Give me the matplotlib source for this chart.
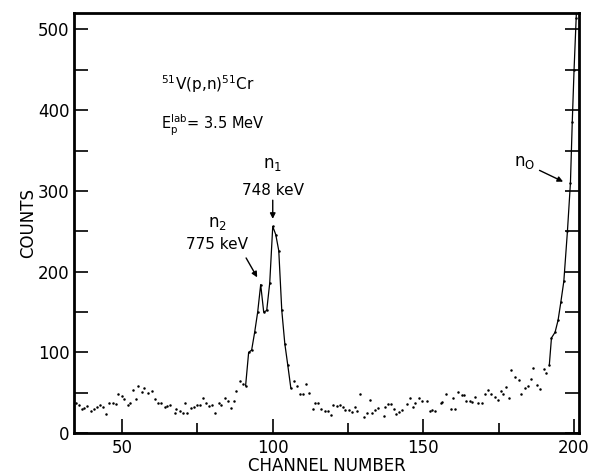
import numpy as np
import matplotlib
matplotlib.use("Agg")
import matplotlib.pyplot as plt

# channel / counts
channels = [34.7, 35.7, 36.6, 37.4, 38.4, 39.6, 40.6, 41.6, 42.7, 43.6, 44.7, 45.8, 46.9, 48.0,
            48.6, 49.9, 50.8, 51.8, 52.7, 53.6, 54.6, 55.4, 56.6, 57.4, 58.6, 59.9, 60.8, 61.9,
            62.9, 64.2, 65.0, 65.8, 67.4, 68.0, 69.1, 70.1, 70.9, 71.7, 73.0, 74.0, 75.0, 76.0,
            77.0, 78.0, 79.0, 80.0, 81.0, 82.0, 82.9, 84.0, 85.0, 86.2, 87.0, 87.9, 89.0, 90.0,
            91.0, 92.0, 93.0, 94.0, 95.0, 96.0, 97.0, 98.0, 99.0, 100.0, 101.0, 102.0, 103.0,
            104.0, 105.0, 106.0, 107.1, 108.2, 108.9, 110.0, 110.9, 111.9, 113.3, 114.0, 115.1,
            116.1, 117.2, 118.2, 119.3, 120.1, 121.3, 122.4, 123.3, 124.1, 125.2, 126.2, 127.3,
            128.0, 129.1, 130.2, 131.3, 132.2, 132.9, 133.9, 135.0, 136.9, 137.3, 138.2, 139.3,
            140.1, 141.0, 141.9, 143.0, 144.4, 145.4, 146.7, 147.3, 148.6, 149.6, 151.1, 152.1,
            152.9, 153.8, 155.7, 156.3, 157.4, 159.0, 159.8, 160.6, 161.5, 162.7, 163.6, 164.3,
            165.3, 166.2, 167.2, 168.1, 169.4, 170.6, 171.6, 172.5, 173.7, 174.8, 175.8, 176.5,
            177.4, 178.5, 179.2, 180.4, 181.6, 182.5, 183.7, 184.7, 185.7, 186.5, 187.8, 188.8,
            190.0, 190.7, 191.8, 192.5, 193.7, 194.7, 195.6, 196.6, 197.8, 198.8, 199.4, 200.0,
            200.7, 201.5]
counts = [38, 35, 30, 31, 34, 27.5, 30, 32, 35, 32.5, 24, 38, 37, 36,
          48, 46, 42, 35, 38, 54, 42, 59, 51, 56, 50, 52, 42, 37,
          37, 32, 34, 35, 25.5, 30, 28, 25, 38, 25.5, 31, 33, 35, 35,
          43, 38, 34, 35, 25.5, 38, 35, 44, 39.5, 31, 39.5, 52, 64.5, 60.5,
          59, 100, 103, 125, 150, 184, 150, 152, 186, 256, 246, 226, 152,
          111, 84, 56, 65, 58, 49, 48.5, 60.5, 50, 30, 37, 38,
          30, 27, 27, 22, 35, 34, 34.5, 32.5, 29, 29, 26, 33,
          27.5, 48, 20, 25, 41.5, 25.5, 29, 31, 21, 32.5, 36.5, 36,
          30, 23.5, 26, 29, 36, 44, 32, 37, 43, 39.5, 40, 28,
          28.5, 28, 37.5, 39, 49, 29.5, 43, 30.5, 51.5, 47, 47, 40,
          40, 39, 45, 37.5, 37, 49, 53, 48.5, 44.5, 41, 52, 48,
          57, 44, 78, 69, 66, 48, 55.5, 58, 67.5, 80.5, 60, 55,
          80, 75, 85, 118, 125, 140, 162, 188, 250, 310, 385, 450,
          514, 600]

# channel windows where the points are joined by a line
line_windows = [(91, 106), (191.8, 202)]

x = np.array(channels)
y = np.array(counts)

plt.rcParams['font.family'] = ['DejaVu Sans']
fig = plt.figure(figsize=(5.91, 4.75), dpi=100)
ax = fig.add_axes([0.125, 0.088, 0.855, 0.884])

for lo, hi in line_windows:
    m = (x >= lo) & (x <= hi)
    ax.plot(x[m], y[m], '-', color='black', lw=0.9)
ax.plot(x, y, 'o', color='black', markersize=1.8, markeredgewidth=0)

ax.set_xlim(34, 201.7)
ax.set_ylim(0, 520)

ax.set_xticks([50, 100, 150, 200])
ax.set_xticks([75, 125, 175], minor=True)
ax.set_yticks([0, 100, 200, 300, 400, 500])
ax.set_yticks([50, 150, 250, 350, 450], minor=True)
ax.tick_params(axis='both', which='both', direction='in', labelsize=12, width=1.2)
ax.tick_params(axis='x', which='major', length=10, pad=4)
ax.tick_params(axis='x', which='minor', length=7)
ax.tick_params(axis='y', which='both', length=10, right=True, pad=3)

for s in ax.spines.values():
    s.set_linewidth(2)

ax.set_xlabel('CHANNEL NUMBER', fontsize=12, labelpad=0)
ax.set_ylabel('COUNTS', fontsize=12, labelpad=1)

# reaction label
ax.text(63, 425, r'$^{51}$V(p,n)$^{51}$Cr', fontsize=11)
ax.text(63, 376, r'E$_\mathregular{p}^\mathregular{lab}$= 3.5 MeV', fontsize=10.5)

arrow = dict(arrowstyle='-|>', color='black', lw=1, mutation_scale=8)

# peak labels
ax.text(100, 333, r'n$_\mathregular{1}$', fontsize=12, ha='center', va='center')
ax.text(100, 300, '748 keV', fontsize=11, ha='center', va='center')
ax.annotate('', xy=(100, 262), xytext=(100, 292), arrowprops=arrow)
ax.text(81.5, 260, r'n$_\mathregular{2}$', fontsize=12, ha='center', va='center')
ax.text(81.5, 234, '775 keV', fontsize=11, ha='center', va='center')
ax.annotate('', xy=(95.3, 190), xytext=(90.7, 220), arrowprops=arrow)
ax.text(183.5, 336, r'n$_\mathregular{O}$', fontsize=12, ha='center', va='center')
ax.annotate('', xy=(197.2, 310), xytext=(187.7, 327), arrowprops=arrow)

fig.savefig('out.png', dpi=100)
